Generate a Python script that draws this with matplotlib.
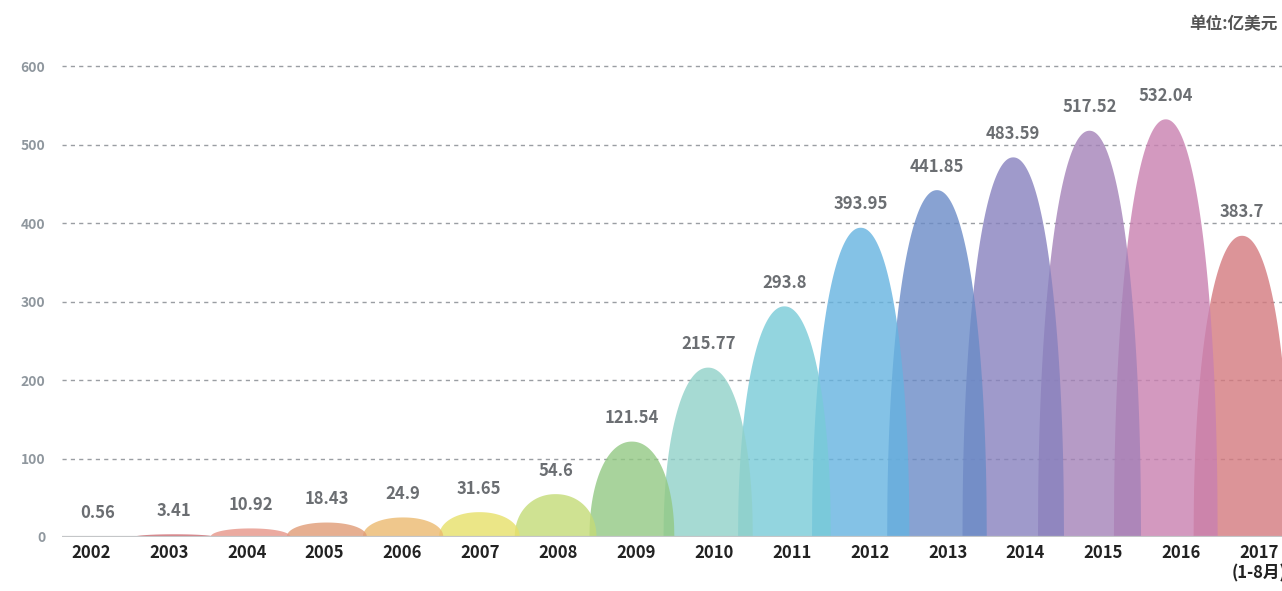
import matplotlib
matplotlib.use('Agg')
import matplotlib.pyplot as plt
import numpy as np

plt.rcParams['font.family'] = ['Noto Sans CJK SC', 'DejaVu Sans']

# 数据 (单位: 亿美元)
years = ['2002', '2003', '2004', '2005', '2006', '2007', '2008', '2009',
         '2010', '2011', '2012', '2013', '2014', '2015', '2016', '2017\n(1-8月)']
values = [0.56, 3.41, 10.92, 18.43, 24.9, 31.65, 54.6, 121.54,
          215.77, 293.8, 393.95, 441.85, 483.59, 517.52, 532.04, 383.7]
colors = ['#c03d4a', '#cd6369', '#e69588', '#e09b76', '#ecba6f', '#e7e069',
          '#c4db77', '#92c983', '#90d1c9', '#78cbd8', '#65b3e0', '#6a8bc7',
          '#8781be', '#a482b8', '#c980b0', '#d4797e']
yticks = [0, 100, 200, 300, 400, 500, 600]

W, H = 1282, 591
fig = plt.figure(figsize=(W / 100, H / 100), dpi=100)
# axes in pixel terms: left 62, bottom 537 (from top), top 40
ax = fig.add_axes([62 / W, (H - 537) / H, (W - 62) / W, (537 - 40) / H])

px_per_cat = 76.27
ax.set_xlim(-(98 - 62) / px_per_cat, (W - 98) / px_per_cat)
ax.set_ylim(0, (537 - 40) / 0.785)

# 拱形: 半椭圆, 后面的年份画在下面
n = 2.1
t = np.linspace(-1, 1, 401)
vmax = max(values)
for i in range(len(values) - 1, -1, -1):
    v = values[i]
    a = 0.52 + 0.16 * v / vmax
    xs = i + a * t
    ys = v * (1 - np.abs(t) ** n) ** (1 / n)
    ax.fill(xs, ys, color=colors[i], alpha=0.8, lw=0, zorder=2 + (len(values) - i) * 0.01)
    ax.annotate(f'{v:g}', (i, v), xytext=(0, 17), textcoords='offset points',
                ha='center', va='center', fontsize=12, fontweight='bold',
                color='#6b6e72', zorder=5)

# 网格
for y in yticks[1:]:
    ax.axhline(y, color='#9a9ea3', lw=1, ls=(0, (3, 3)), zorder=1)
ax.axhline(0, color='#c4c6c8', lw=1.6, zorder=4)

for s in ax.spines.values():
    s.set_visible(False)
ax.set_xticks([])

# 年份标签 (单独的刻度比例)
ax2 = ax.twiny()
ax2.set_position(ax.get_position())
lab_sp = 77.87
ax2.set_xlim(-(91 - 62) / lab_sp, (W - 91) / lab_sp)
ax2.set_xticks(range(len(years)))
ax2.set_xticklabels(years, fontsize=12, fontweight='bold', color='#222222', linespacing=1.2)
ax2.xaxis.set_ticks_position('bottom')
ax2.xaxis.set_label_position('bottom')
ax2.tick_params(axis='x', length=0, pad=5)
for s in ax2.spines.values():
    s.set_visible(False)

ax.set_yticks(yticks)
ax.set_yticklabels([str(y) for y in yticks], fontsize=10, fontweight='bold', color='#8f979e')
ax.tick_params(axis='y', length=0, pad=12)

fig.text(1278 / W, 1 - 24 / H, '单位:亿美元', ha='right', va='center',
         fontsize=12, fontweight='bold', color='#555555')

fig.savefig('out.png', dpi=100)
